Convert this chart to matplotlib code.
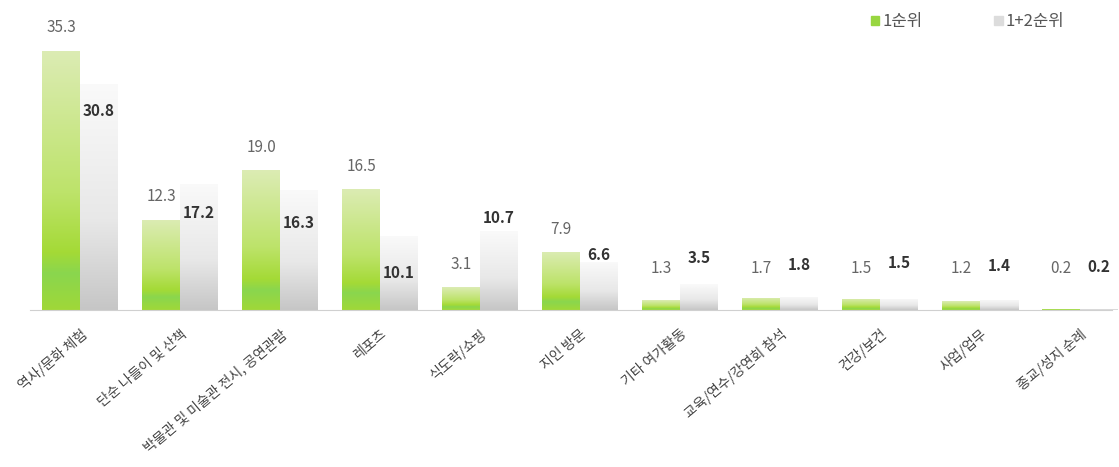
import numpy as np
import matplotlib.pyplot as plt
from matplotlib.colors import LinearSegmentedColormap
from matplotlib.patches import Patch

plt.rcParams['font.family'] = ['Noto Sans CJK KR', 'DejaVu Sans']

# 데이터
categories = ["역사/문화 체험", "단순 나들이 및 산책", "박물관 및 미술관 전시, 공연관람", "레포츠",
              "식도락/쇼핑", "지인 방문", "기타 여가활동", "교육/연수/강연회 참석",
              "건강/보건", "사업/업무", "종교/성지 순례"]
rank1 = [35.3, 12.3, 19.0, 16.5, 3.1, 7.9, 1.3, 1.7, 1.5, 1.2, 0.2]
rank12 = [30.8, 17.2, 16.3, 10.1, 10.7, 6.6, 3.5, 1.8, 1.5, 1.4, 0.2]
series_names = ["1순위", "1+2순위"]

# 회색 막대 라벨 위치 보정값 (원본 배치에 맞춤)
gray_nudge = [-3.7, -4.0, -4.4, -5.1, 1.8, 0.9, 3.6, 4.3, 4.9, 4.6, 5.7]

green_cmap = LinearSegmentedColormap.from_list(
    "g", [(0.0, "#dcecb4"), (0.55, "#bde36a"), (0.78, "#a4da36"),
          (0.86, "#8ad64e"), (1.0, "#a0d838")])
gray_cmap = LinearSegmentedColormap.from_list(
    "w", [(0.0, "#fafafa"), (0.6, "#e8e8e8"), (1.0, "#c6c6c6")])

fig = plt.figure(figsize=(11.19, 4.67), dpi=100)
ax = fig.add_axes([30 / 1119, 157 / 467, 1082 / 1119, 310 / 467])

x = np.arange(len(categories))
w = 0.38
b1 = ax.bar(x - w / 2, rank1, w, color="none")
b2 = ax.bar(x + w / 2, rank12, w, color="none")

grad = np.linspace(0, 1, 256).reshape(-1, 1)
for bars, cmap in [(b1, green_cmap), (b2, gray_cmap)]:
    for p in bars:
        x0, y0 = p.get_x(), p.get_y()
        x1, y1 = x0 + p.get_width(), y0 + p.get_height()
        im = ax.imshow(grad, cmap=cmap, aspect="auto", origin="upper",
                       extent=[x0, x1, y0, y1], zorder=2)
        im.set_clip_path(p)

# 값 라벨
for i, v in enumerate(rank1):
    ax.text(x[i] - w / 2, max(v + 3.1, 5.7), f"{v:.1f}", ha="center", va="center",
            fontsize=11, color="#666666")
for i, v in enumerate(rank12):
    ax.text(x[i] + w / 2, v + gray_nudge[i], f"{v:.1f}", ha="center", va="center",
            fontsize=11, color="#333333", fontweight="bold")

ax.set_xlim(-0.5, 10.32)
ax.set_ylim(0, 42.2)
ax.set_xticks(x)
ax.set_xticklabels(categories, rotation=40, ha="right", rotation_mode="anchor",
                   fontsize=10, color="#444444")
ax.tick_params(axis="x", length=0, pad=12)
ax.set_yticks([])
for s in ["top", "right", "left"]:
    ax.spines[s].set_visible(False)
ax.spines["bottom"].set_color("#d0d0d0")

handles = [Patch(color="#98d640"), Patch(color="#dcdcdc")]
ax.legend(handles, series_names, loc="upper right", ncol=2, frameon=False,
          fontsize=12, labelcolor="#555555", handlelength=0.5, handleheight=0.5,
          handletextpad=0.2, columnspacing=4.3, bbox_to_anchor=(0.97, 1.005))

fig.savefig("out.png", dpi=100)
